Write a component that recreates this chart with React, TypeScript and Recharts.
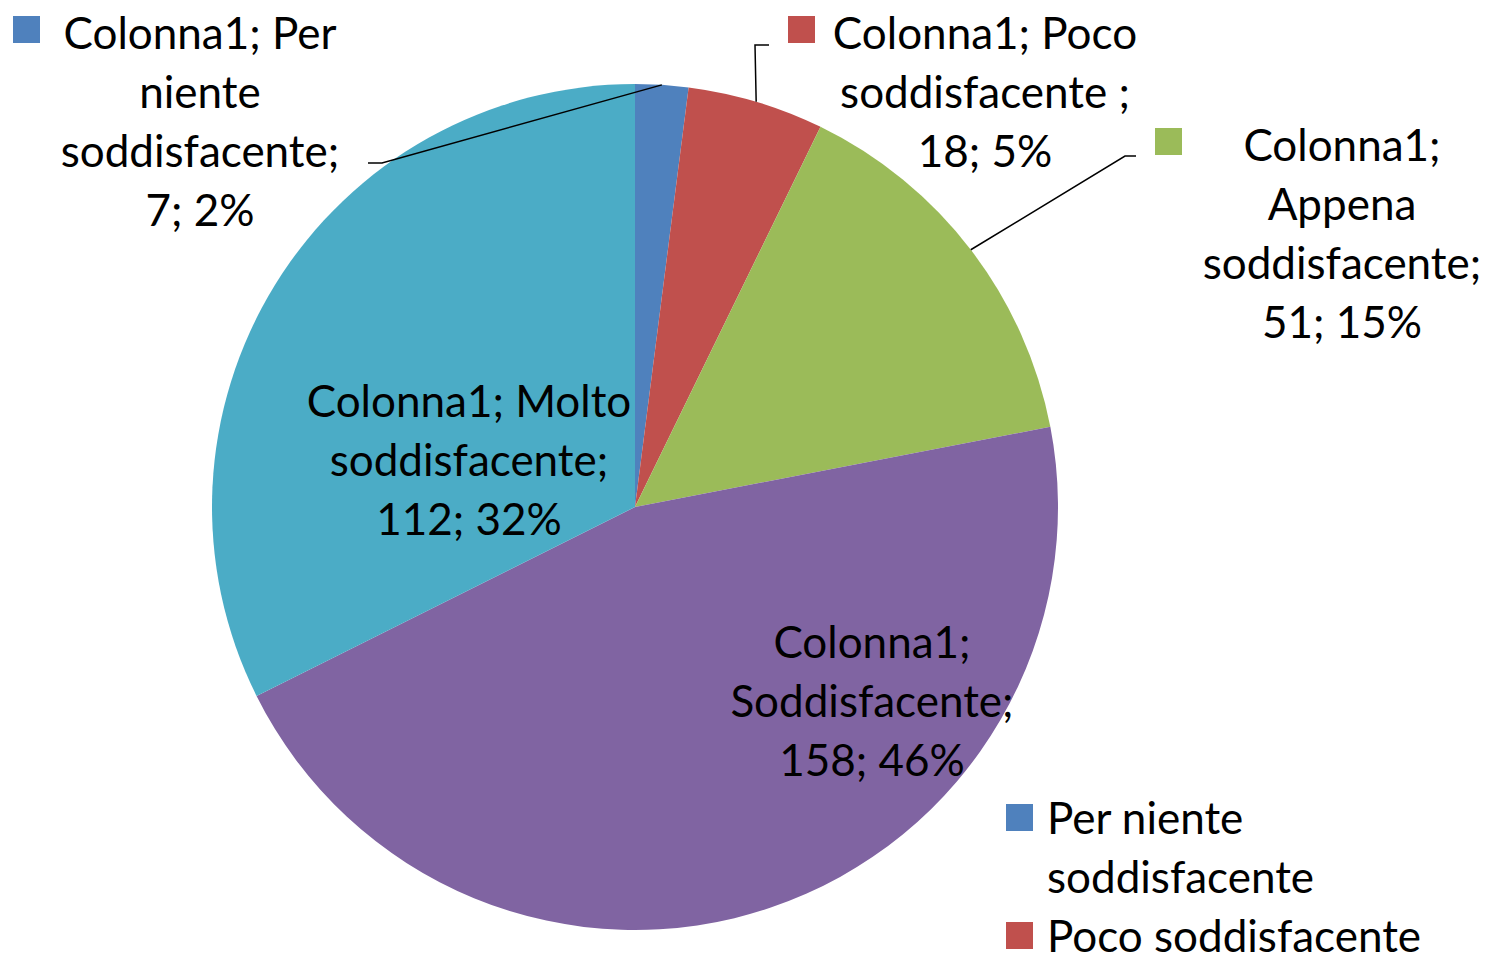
import React from 'react'
import { PieChart, Pie, Cell, Legend } from 'recharts'

const seriesName = 'Colonna1'
const categories = [
  'Per niente soddisfacente',
  'Poco soddisfacente ',
  'Appena soddisfacente',
  'Soddisfacente',
  'Molto soddisfacente',
]
const values = [7, 18, 51, 158, 112]
const colors = ['#4F81BD', '#C0504D', '#9BBB59', '#8064A2', '#4BACC6']

const total = values.reduce((a, b) => a + b, 0)
const chartData = categories.map((name, i) => ({ name, value: values[i] }))

const FONT = "Lato, 'Open Sans', sans-serif"
const FONT_SIZE = 44
const LINE_H = 59
const RADIAN = Math.PI / 180
// nell'originale la legenda esce dall'area del grafico: si vedono solo le prime due voci
const LEGEND_VISIBLE = 2

// posizione etichette rispetto al centro della torta (stile "adatta" di Excel)
const labelLayout = [
  { dx: -435, dy: -475, wrap: 14, keyDx: -187, elbow: [-253, -344], tail: -14 },
  { dx: 350, dy: -475, wrap: 15, keyDx: -197, elbow: [120, -462], tail: 14 },
  { dx: 707, dy: -363, wrap: 14, keyDx: -187, elbow: [490, -351], tail: 11 },
  { dx: 237, dy: 134, wrap: 14 },
  { dx: -166, dy: -107, wrap: 15 },
]

function wrapWords(text: string, max: number): string[] {
  const words = text.split(' ').filter(w => w.length > 0)
  const lines: string[] = []
  let cur = ''
  words.forEach(w => {
    const next = cur ? cur + ' ' + w : w
    if (next.length > max && cur) {
      lines.push(cur)
      cur = w
    } else {
      cur = next
    }
  })
  if (cur) lines.push(cur)
  return lines
}

// eslint-disable-next-line @typescript-eslint/no-explicit-any
const renderLabel = (props: any) => {
  const { cx, cy, midAngle, outerRadius, index, name, value } = props
  const layout = labelLayout[index]
  const pct = Math.round((value / total) * 100)
  const lines = wrapWords(`${seriesName}; ${name}; ${value}; ${pct}%`, layout.wrap)
  const tx = cx + layout.dx
  const ty = cy + layout.dy

  let leader = null
  if (layout.elbow) {
    const ex = cx + outerRadius * Math.cos(-midAngle * RADIAN)
    const ey = cy + outerRadius * Math.sin(-midAngle * RADIAN)
    const bx = cx + layout.elbow[0]
    const by = cy + layout.elbow[1]
    leader = (
      <polyline
        points={`${ex},${ey} ${bx},${by} ${bx + (layout.tail || 0)},${by}`}
        fill="none"
        stroke="#000"
        strokeWidth={1.5}
      />
    )
  }

  return (
    <g>
      {leader}
      {layout.keyDx !== undefined && (
        <rect x={tx + layout.keyDx} y={ty - 16} width={27} height={27} fill={colors[index]} />
      )}
      <text
        x={tx}
        y={ty}
        textAnchor="middle"
        dominantBaseline="central"
        fontFamily={FONT}
        fontSize={FONT_SIZE}
        fill="#000"
      >
        {lines.map((line, i) => (
          <tspan key={i} x={tx} dy={i === 0 ? 0 : LINE_H}>
            {line}
          </tspan>
        ))}
      </text>
    </g>
  )
}

// legenda nell'ordine delle categorie
const renderLegend = () => (
  <div style={{ fontFamily: FONT, fontSize: FONT_SIZE, lineHeight: `${LINE_H}px`, color: '#000' }}>
    {categories.slice(0, LEGEND_VISIBLE).map((name, i) => (
      <div key={i} style={{ display: 'flex', alignItems: 'flex-start' }}>
        <div
          style={{
            width: 27,
            height: 27,
            marginTop: 16,
            marginRight: 14,
            flex: '0 0 auto',
            backgroundColor: colors[i],
          }}
        />
        <div style={{ width: 420 }}>{name}</div>
      </div>
    ))}
  </div>
)

export default function App() {
  return (
    <div
      style={{
        position: 'absolute',
        left: 0,
        top: 0,
        width: 1489,
        height: 953,
        overflow: 'hidden',
        background: '#fff',
      }}
    >
      <PieChart width={1489} height={953} margin={{ top: 0, right: 0, bottom: 0, left: 0 }}>
        <Pie
          data={chartData}
          dataKey="value"
          nameKey="name"
          cx={635}
          cy={507}
          outerRadius={423}
          startAngle={90}
          endAngle={-270}
          stroke="none"
          label={renderLabel}
          labelLine={false}
          isAnimationActive={false}
        >
          {chartData.map((_, i) => (
            <Cell key={i} fill={colors[i]} />
          ))}
        </Pie>
        <Legend
          content={renderLegend}
          layout="vertical"
          verticalAlign="bottom"
          align="right"
          wrapperStyle={{ position: 'absolute', left: 1006, top: 788, width: 470, bottom: 'auto', right: 'auto' }}
        />
      </PieChart>
    </div>
  )
}
